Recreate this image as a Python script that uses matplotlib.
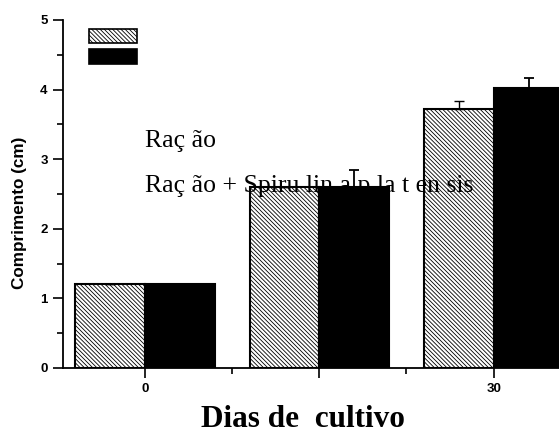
import matplotlib
matplotlib.use("Agg")
import matplotlib.pyplot as plt
from matplotlib.patches import Rectangle

# Culture days and mean length (cm) for each diet
dias = [0, 15, 30]
racao = [1.2, 2.6, 3.72]
racao_err = [0.0, 0.0, 0.12]
spirulina = [1.2, 2.6, 4.02]
spirulina_err = [0.0, 0.24, 0.14]

legend_labels = ["Raç ão", "Raç ão + Spiru lin a p la t en sis"]
x_ticklabels = ["0", "", "30"]
y_ticks = [0, 1, 2, 3, 4, 5]

plt.rcParams["hatch.linewidth"] = 0.6
plt.rcParams["hatch.color"] = "black"
HATCH = "\\" * 8

fig = plt.figure(figsize=(5.59, 4.38), dpi=100)
ax = fig.add_axes([63 / 559, 70 / 438, 512 / 559, 348 / 438])

width = 6.0
xl = [d - width / 2 for d in dias]
xr = [d + width / 2 for d in dias]

ax.bar(xl, racao, width=width, facecolor="white", edgecolor="black",
       linewidth=1.5, hatch=HATCH, zorder=2)
ax.bar(xr, spirulina, width=width, facecolor="black", edgecolor="black",
       linewidth=1.5, zorder=2)

ax.errorbar(xl, racao, yerr=[[0] * 3, racao_err], fmt="none", ecolor="black",
            elinewidth=1.0, capsize=3.6, capthick=1.0, zorder=3)
ax.errorbar(xr, spirulina, yerr=[[0] * 3, spirulina_err], fmt="none",
            ecolor="black", elinewidth=1.3, capsize=3.6, capthick=1.3, zorder=3)

ax.set_xlim(-7.05, 37)
ax.set_ylim(0, 5)

for side in ("top", "right"):
    ax.spines[side].set_visible(False)
for side in ("left", "bottom"):
    ax.spines[side].set_linewidth(1.3)

ax.set_yticks(y_ticks)
ax.set_yticks([v + 0.5 for v in y_ticks[:-1]], minor=True)
ax.set_xticks(dias)
ax.set_xticklabels(x_ticklabels)
ax.set_xticks([7.5, 22.5], minor=True)
ax.tick_params(axis="both", which="major", direction="out", length=7,
               width=1.2, labelsize=9.5, pad=4)
ax.tick_params(axis="both", which="minor", direction="out", length=4,
               width=1.2)
for lab in ax.get_yticklabels() + ax.get_xticklabels():
    lab.set_fontweight("bold")
    lab.set_family("Liberation Sans")

# Legend swatches
fig.patches.append(Rectangle((89 / 559, 1 - 43 / 438), 48 / 559, 14 / 438,
                             transform=fig.transFigure, facecolor="white",
                             edgecolor="black", linewidth=1.2,
                             hatch=HATCH, figure=fig))
fig.patches.append(Rectangle((89 / 559, 1 - 64 / 438), 48 / 559, 15 / 438,
                             transform=fig.transFigure, facecolor="black",
                             edgecolor="black", linewidth=1.2, figure=fig))

fig.text(145 / 559, 1 - 147 / 438, legend_labels[0], family="Liberation Serif",
         fontsize=18.5, ha="left", va="baseline", zorder=5)
fig.text(145 / 559, 1 - 192 / 438, legend_labels[1], family="Liberation Serif",
         fontsize=18.5, ha="left", va="baseline", zorder=5)

fig.text(303 / 559, 1 - 427 / 438, "Dias de  cultivo", family="Liberation Serif",
         fontweight="bold", fontsize=22.5, ha="center", va="baseline")
fig.text(20 / 559, 1 - 213 / 438, "Comprimento (cm)", family="Liberation Sans",
         fontweight="bold", fontsize=12.3, rotation=90, ha="center",
         va="center")

fig.savefig("out.png", dpi=100)
